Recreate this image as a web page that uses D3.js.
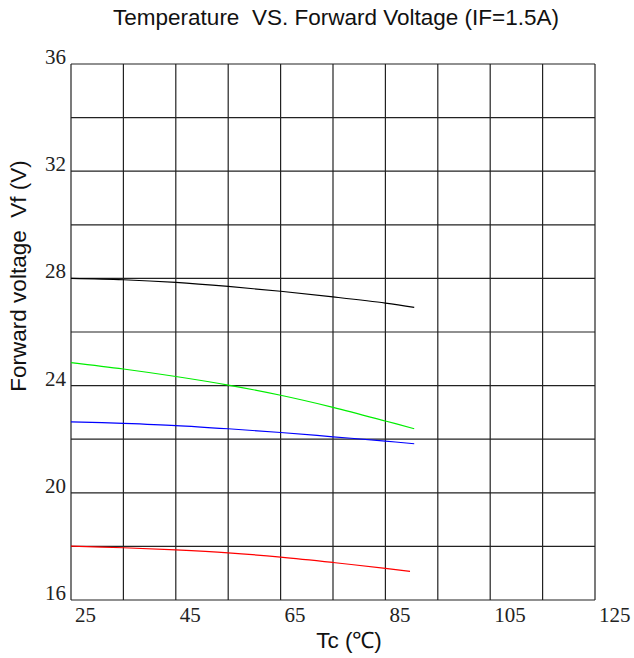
<!DOCTYPE html>
<html>
<head>
<meta charset="utf-8">
<script src="https://cdn.jsdelivr.net/npm/d3@7"></script>
<style>
  body { margin: 0; background: #fff; }
  .tick-label { font-family: "Liberation Serif", "DejaVu Serif", serif; font-size: 21px; fill: #222; }
  .title { font-family: "Liberation Sans", Arial, sans-serif; font-size: 22.5px; fill: #111; white-space: pre; }
</style>
</head>
<body>
<svg id="chart"></svg>
<script>
const temps = [25, 35, 45, 55, 65, 75, 85, 90.5];
const blackVf = [28.0, 27.95, 27.85, 27.7, 27.52, 27.31, 27.08, 26.92];
const greenVf = [24.86, 24.62, 24.34, 24.02, 23.64, 23.19, 22.68, 22.39];
const blueVf = [22.65, 22.59, 22.51, 22.39, 22.25, 22.09, 21.93, 21.83];
const redVf = [18.01, 17.95, 17.87, 17.76, 17.6, 17.4, 17.18, 17.07];
const redTemps = [25, 35, 45, 55, 65, 75, 85, 89.7];

const xTicks = [25, 45, 65, 85, 105, 125];
const yTicks = [16, 20, 24, 28, 32, 36];

const series = [
  { name: 'black', color: '#000000', x: temps, y: blackVf },
  { name: 'green', color: '#00ee00', x: temps, y: greenVf },
  { name: 'blue', color: '#0000ff', x: temps, y: blueVf },
  { name: 'red', color: '#ff0000', x: redTemps, y: redVf }
];

const width = 634;
const height = 658;
const margin = { top: 64, right: 39, bottom: 58, left: 71 };

const svg = d3.select('#chart')
  .attr('width', width)
  .attr('height', height);

const x = d3.scaleLinear().domain([25, 125]).range([margin.left, width - margin.right]);
const y = d3.scaleLinear().domain([16, 36]).range([height - margin.bottom, margin.top]);

// grid: 10 columns, 10 rows
const grid = svg.append('g').attr('stroke', '#222').attr('stroke-width', 1.2);
grid.selectAll('line.v')
  .data(d3.range(25, 126, 10))
  .enter()
  .append('line')
  .attr('x1', d => x(d)).attr('x2', d => x(d))
  .attr('y1', y(16)).attr('y2', y(36));
grid.selectAll('line.h')
  .data(d3.range(16, 37, 2))
  .enter()
  .append('line')
  .attr('y1', d => y(d)).attr('y2', d => y(d))
  .attr('x1', x(25)).attr('x2', x(125));

// tick labels
svg.append('g')
  .selectAll('text')
  .data(xTicks)
  .enter()
  .append('text')
  .attr('class', 'tick-label')
  .attr('x', d => x(d) + 4)
  .attr('y', y(16) + 22)
  .text(d => d);

svg.append('g')
  .selectAll('text')
  .data(yTicks)
  .enter()
  .append('text')
  .attr('class', 'tick-label')
  .attr('x', x(25) - 5)
  .attr('y', d => y(d))
  .attr('text-anchor', 'end')
  .text(d => d);

// curves
const line = d3.line().curve(d3.curveCatmullRom);
svg.append('g')
  .selectAll('path')
  .data(series)
  .enter()
  .append('path')
  .attr('d', s => line(s.x.map((t, i) => [x(t), y(s.y[i])])))
  .attr('fill', 'none')
  .attr('stroke', s => s.color)
  .attr('stroke-width', 1.2);

// titles
svg.append('text')
  .attr('class', 'title')
  .attr('x', 336)
  .attr('y', 25)
  .attr('text-anchor', 'middle')
  .text('Temperature  VS. Forward Voltage (IF=1.5A)');

svg.append('text')
  .attr('class', 'title')
  .attr('transform', 'translate(26, 276) rotate(-90)')
  .attr('text-anchor', 'middle')
  .text('Forward voltage  Vf (V)');

svg.append('text')
  .attr('class', 'title')
  .attr('x', 349)
  .attr('y', 648)
  .attr('text-anchor', 'middle')
  .text('Tc (℃)');
</script>
</body>
</html>
